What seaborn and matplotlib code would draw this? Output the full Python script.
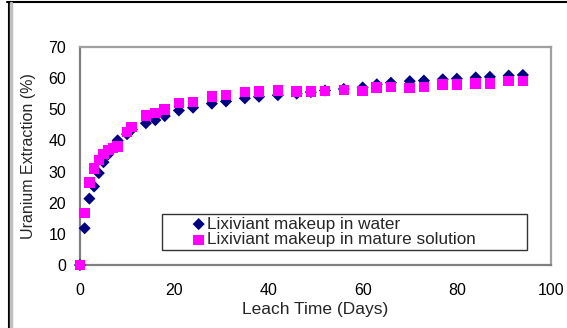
import matplotlib
matplotlib.use("Agg")
import matplotlib.pyplot as plt
import seaborn as sns
import pandas as pd
from matplotlib.lines import Line2D

# Leach test data: uranium extraction (%) against leach time (days)
days = [0, 1, 2, 3, 4, 5, 6, 7, 8, 10, 11, 14, 16, 18, 21, 24, 28, 31, 35, 38,
        42, 46, 49, 52, 56, 60, 63, 66, 70, 73, 77, 80, 84, 87, 91, 94]
water = [0, 11.8, 21.3, 25.2, 29.5, 33.0, 35.5, 37.5, 40.0, 42.0, 43.5, 45.5,
         46.5, 47.8, 49.6, 50.5, 51.8, 52.5, 53.5, 54.0, 54.5, 55.0, 55.5, 56.0,
         56.5, 57.0, 58.0, 58.5, 59.0, 59.2, 59.6, 59.8, 60.2, 60.4, 60.8, 61.0]
mature = [0, 16.7, 26.5, 31.0, 33.7, 35.6, 36.9, 37.6, 38.0, 42.7, 44.3, 48.0,
          48.8, 50.0, 52.0, 52.3, 54.0, 54.6, 55.5, 55.6, 56.0, 55.6, 55.6, 55.9,
          56.2, 55.9, 57.0, 57.2, 56.8, 57.2, 58.0, 58.0, 58.3, 58.3, 59.0, 59.0]
series_names = ["Lixiviant makeup in water", "Lixiviant makeup in mature solution"]
x_ticks = [0, 20, 40, 60, 80, 100]
y_ticks = [0, 10, 20, 30, 40, 50, 60, 70]

sns.set_style("white")
plt.rcParams["font.family"] = ["Liberation Sans", "DejaVu Sans"]

df_w = pd.DataFrame({"day": days, "pct": water})
df_m = pd.DataFrame({"day": days, "pct": mature})

fig = plt.figure(figsize=(5.67, 3.28), dpi=100)
ax = fig.add_axes([0.141, 0.192, 0.831, 0.665])

sns.scatterplot(data=df_w, x="day", y="pct", marker="D", s=38, color="#000080",
                edgecolor="none", label=series_names[0], ax=ax, clip_on=False, zorder=3)
sns.scatterplot(data=df_m, x="day", y="pct", marker="s", s=58, color="#FF00FF",
                edgecolor="none", label=series_names[1], ax=ax, clip_on=False, zorder=4)

ax.set_xlim(0, 100)
ax.set_ylim(0, 70)
ax.set_xticks(x_ticks)
ax.set_yticks(y_ticks)
ax.tick_params(axis="both", direction="out", length=5, width=1, color="#808080",
               labelsize=11.5, labelcolor="black")
ax.tick_params(axis="x", pad=8)
ax.tick_params(axis="y", pad=5)
for sp in ax.spines.values():
    sp.set_color("#a0a0a0")
    sp.set_linewidth(1.6)
ax.spines["left"].set_color("#808080")
ax.spines["bottom"].set_color("#808080")

ax.set_xlabel("Leach Time (Days)", fontsize=12.5, labelpad=3)
ax.set_ylabel("Uranium Extraction (%)", fontsize=11.5, labelpad=9)

leg = ax.legend(loc="lower left", bbox_to_anchor=(0.174, 0.069, 0.775, 0.183),
                mode="expand", frameon=True, fancybox=False, fontsize=12.3,
                handletextpad=-1.5, borderpad=0.15, labelspacing=0.05,
                handlelength=4.0, borderaxespad=0)
leg.get_frame().set_edgecolor("black")
leg.get_frame().set_linewidth(1.0)

# Outer frame lines along the top and left edges
fig.add_artist(Line2D([0.013, 1.0], [0.993, 0.993], transform=fig.transFigure,
                      color="black", lw=1.5))
fig.add_artist(Line2D([0.015, 0.015], [0.0, 0.993], transform=fig.transFigure,
                      color="black", lw=1.5))
fig.add_artist(Line2D([0.019, 0.019], [0.0, 0.99], transform=fig.transFigure,
                      color="#c0c0c0", lw=2.5))

fig.savefig("out.png", dpi=100)
